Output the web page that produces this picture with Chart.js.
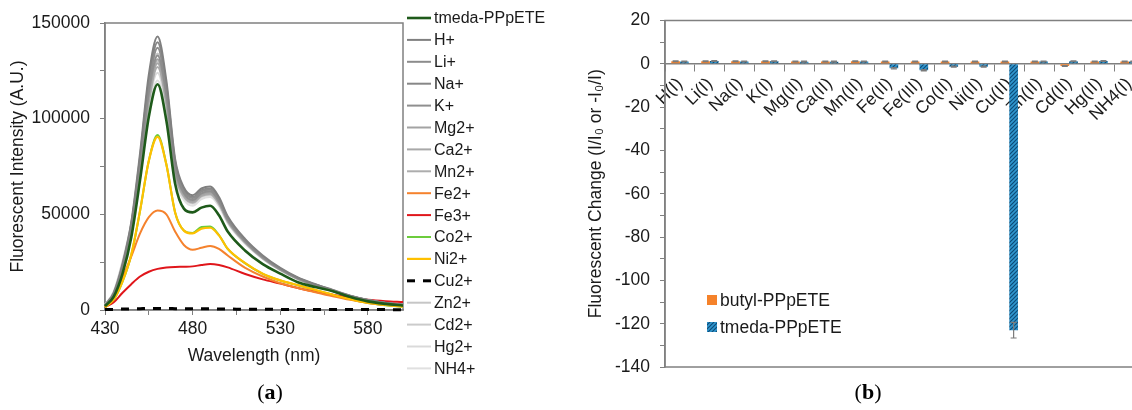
<!DOCTYPE html>
<html>
<head>
<meta charset="utf-8">
<script src="https://cdn.jsdelivr.net/npm/chart.js@4.4.1/dist/chart.umd.min.js"></script>
<style>
html, body { margin: 0; padding: 0; background: #fff; width: 1132px; height: 410px; overflow: hidden; }
#wrapA { position: absolute; left: 0; top: 0; width: 560px; height: 410px; }
#wrapB { position: absolute; left: 560px; top: 0; width: 600px; height: 410px; }
.cap { position: absolute; top: 379px; transform: translateX(-50%); font-family: "Liberation Serif", "DejaVu Serif", serif; font-size: 22px; color: #000; }
</style>
</head>
<body>
<div id="wrapA"><canvas id="spectra"></canvas></div>
<div id="wrapB"><canvas id="change"></canvas></div>
<div class="cap" style="left:270px">(<b>a</b>)</div>
<div class="cap" style="left:868px">(<b>b</b>)</div>
<script>
'use strict';

// ---- panel (a): emission spectra, intensities in thousands (A.U.) ----
const wavelengths = [430, 435, 440, 445, 450, 455, 460, 465, 470, 475, 480, 485, 490, 495, 500, 510, 520, 530, 540, 550, 560, 570, 580, 590, 600];

const tmedaSpec = [2, 7, 19, 38, 68, 101, 118, 99, 66, 53, 51, 53.5, 54.5, 49.5, 41, 31, 24, 19, 14.5, 12, 9.8, 6.8, 4.5, 3.2, 2.3];
const hSpec   = [2.5, 9, 24, 46, 82, 123, 143, 120, 79, 64, 60, 63.5, 64.5, 59, 49, 37, 28.5, 22, 17, 13.5, 10.5, 7.5, 5.3, 3.8, 2.8];
const liSpec  = [2.4, 8.6, 23, 44, 78, 117, 137, 115, 76, 62, 58.5, 62, 63, 57.5, 47.8, 36.2, 27.8, 21.5, 16.6, 13.2, 10.2, 7.3, 5.2, 3.7, 2.7];
const naSpec  = [2.4, 8.8, 23.5, 45, 80, 120, 140, 117.5, 77.5, 63, 59, 62.5, 63.5, 58, 48.2, 36.5, 28, 21.7, 16.8, 13.3, 10.3, 7.4, 5.2, 3.7, 2.7];
const kSpec   = [2.3, 8.3, 22.3, 42.5, 75.5, 113.5, 133, 112, 74, 61, 57.5, 61, 62, 56.7, 47.2, 35.8, 27.5, 21.3, 16.5, 13, 10.1, 7.2, 5.1, 3.6, 2.6];
const mgSpec  = [2.3, 8.2, 22, 42, 74.5, 112, 131, 110.5, 73, 60.5, 57, 60.5, 61.5, 56.3, 46.9, 35.6, 27.4, 21.2, 16.4, 13, 10, 7.2, 5.1, 3.6, 2.6];
const caSpec  = [2.3, 8.1, 21.7, 41.3, 73.3, 110, 129, 109, 72, 60, 56.5, 60, 61, 55.9, 46.6, 35.4, 27.2, 21.1, 16.3, 12.9, 10, 7.1, 5, 3.6, 2.6];
const mnSpec  = [2.2, 8, 21.4, 40.7, 72.2, 108.5, 127, 107.5, 71, 59.3, 56, 59.5, 60.5, 55.4, 46.2, 35.1, 27, 20.9, 16.2, 12.8, 9.9, 7.1, 5, 3.5, 2.5];
const fe2Spec = [1.5, 8, 17, 28, 40, 48.5, 52, 50, 41, 34, 31.5, 32.5, 33.5, 32, 28.5, 22, 17.5, 14, 11.5, 9.3, 7.2, 5.3, 3.7, 2.7, 2];
const fe3Spec = [1.5, 4, 9, 13.5, 17.5, 20, 21.5, 22.2, 22.5, 22.6, 22.8, 23.5, 24, 23.5, 22.3, 18.8, 16, 13.8, 11.5, 9.5, 8, 6.5, 5.3, 4.6, 4.2];
const coSpec  = [1.4, 5.4, 14.8, 28.8, 51.8, 78, 91.4, 76.2, 51, 41.6, 40.3, 43.4, 43.6, 39.2, 31.9, 24.4, 18.9, 15.4, 12.9, 10.4, 7.9, 5.6, 3.7, 2.5, 1.7];
const niSpec  = [1.5, 5.5, 15, 29, 52, 78, 90.5, 76, 51, 41.5, 40, 42.5, 43, 39, 32, 24.5, 19, 15.5, 13, 10.5, 8, 5.7, 3.8, 2.6, 1.8];
const cuSpec  = [0.2, 0.3, 0.5, 0.6, 0.7, 0.8, 0.8, 0.8, 0.7, 0.6, 0.6, 0.6, 0.6, 0.5, 0.5, 0.4, 0.4, 0.3, 0.3, 0.3, 0.2, 0.2, 0.2, 0.2, 0.1];
const znSpec  = [2.6, 9.2, 24, 44, 77, 115, 134, 113, 75, 61.5, 58, 61.5, 62.5, 57, 47.5, 36, 27.7, 21.4, 16.6, 13.1, 10.2, 7.3, 5.1, 3.6, 2.6];
const cdSpec  = [2.6, 9.3, 24.5, 44.5, 76, 112, 130, 110, 73, 60.5, 57, 60.5, 61.5, 56.3, 47, 35.7, 27.5, 21.3, 16.5, 13, 10.1, 7.2, 5.1, 3.6, 2.6];
const hgSpec  = [2.7, 9.5, 25, 45, 75, 108, 124, 105, 70, 58.5, 55.5, 59, 60, 55, 46, 35, 27, 20.9, 16.2, 12.8, 9.9, 7.1, 5, 3.5, 2.5];
const nh4Spec = [2.7, 9.6, 25.5, 45.5, 74, 105, 120, 102, 68.5, 57.5, 54.5, 58, 59, 54.2, 45.4, 34.6, 26.7, 20.7, 16.1, 12.7, 9.8, 7, 4.9, 3.5, 2.5];

const xTicksA = [430, 455, 480, 505, 530, 555, 580];
const xLabelsA = [430, 480, 530, 580];
const yTicksA = [0, 25000, 50000, 75000, 100000, 125000, 150000];
const yLabelsA = [0, 50000, 100000, 150000];

// ---- panel (b): fluorescent change per metal ion ----
const ions = ['H(I)', 'Li(I)', 'Na(I)', 'K(I)', 'Mg(II)', 'Ca(II)', 'Mn(II)', 'Fe(II)', 'Fe(III)', 'Co(II)', 'Ni(II)', 'Cu(II)', 'Zn(II)', 'Cd(II)', 'Hg(II)', 'NH4(I)'];
const butylChange = [1.2, 1.2, 1.2, 1.2, 1.1, 1.1, 1.2, 1.1, 1.1, 1.1, 1.1, 1.1, 1.1, -1, 1.1, 1.1];
const tmedaChange = [1.1, 1.3, 1.1, 1.2, 1, 1, 1.1, -2, -3, -1.3, -1.3, -123, 1.1, 1.2, 1.3, 1.1];
const butylError = [0.2, 0.2, 0.2, 0.2, 0.2, 0.2, 0.2, 0.2, 0.2, 0.2, 0.2, 0.2, 0.2, 0.2, 0.2, 0.2];
const tmedaError = [0.2, 0.2, 0.2, 0.2, 0.2, 0.2, 0.2, 0.3, 0.3, 0.2, 0.2, 3.6, 0.2, 0.2, 0.2, 0.2];
const yTicksB = [-140, -130, -120, -110, -100, -90, -80, -70, -60, -50, -40, -30, -20, -10, 0, 10, 20];

const FONT = '"Liberation Sans", Arial, sans-serif';
const INK = '#1a1a1a';
const AXIS = '#808080';

function pts(values) {
    return values.map((v, i) => ({ x: wavelengths[i], y: v * 1000 }));
}

// order: lower numbers are painted later (on top)
const spectra = [
    { label: 'tmeda-PPpETE', values: tmedaSpec, color: '#1e5a1a', width: 2.6, order: -2 },
    { label: 'H+', values: hSpec, color: '#808080', width: 2 },
    { label: 'Li+', values: liSpec, color: '#8c8c8c', width: 2 },
    { label: 'Na+', values: naSpec, color: '#878787', width: 2 },
    { label: 'K+', values: kSpec, color: '#8f8f8f', width: 2 },
    { label: 'Mg2+', values: mgSpec, color: '#a3a3a3', width: 2 },
    { label: 'Ca2+', values: caSpec, color: '#a8a8a8', width: 2 },
    { label: 'Mn2+', values: mnSpec, color: '#adadad', width: 2 },
    { label: 'Fe2+', values: fe2Spec, color: '#f5822d', width: 2 },
    { label: 'Fe3+', values: fe3Spec, color: '#e0161b', width: 2 },
    { label: 'Co2+', values: coSpec, color: '#6ccc3c', width: 2 },
    { label: 'Ni2+', values: niSpec, color: '#ffc000', width: 2.2, order: -1 },
    { label: 'Cu2+', values: cuSpec, color: '#000000', width: 3, dash: [8, 8], order: -3 },
    { label: 'Zn2+', values: znSpec, color: '#c6c6c6', width: 2 },
    { label: 'Cd2+', values: cdSpec, color: '#cbcbcb', width: 2 },
    { label: 'Hg2+', values: hgSpec, color: '#dadada', width: 2 },
    { label: 'NH4+', values: nh4Spec, color: '#e0e0e0', width: 2 }
];

const framePlugin = {
    id: 'frame',
    beforeDatasetsDraw(chart) {
        const { left, top, right, bottom } = chart.chartArea;
        const ctx = chart.ctx;
        ctx.save();
        ctx.strokeStyle = AXIS;
        ctx.lineWidth = 1.5;
        ctx.strokeRect(left, top, right - left, bottom - top);
        ctx.restore();
    }
};

const legendA = {
    id: 'legendA',
    afterDraw(chart) {
        const ctx = chart.ctx;
        const x0 = chart.chartArea.right + 4;
        ctx.save();
        ctx.font = '16px ' + FONT;
        ctx.textBaseline = 'middle';
        chart.data.datasets.forEach((ds, i) => {
            const y = 18 + i * 21.9;
            ctx.beginPath();
            ctx.strokeStyle = ds.borderColor;
            ctx.lineWidth = ds.borderWidth;
            ctx.setLineDash(ds.borderDash || []);
            ctx.moveTo(x0, y);
            ctx.lineTo(x0 + 24, y);
            ctx.stroke();
            ctx.setLineDash([]);
            ctx.fillStyle = INK;
            ctx.fillText(ds.label, x0 + 27, y + 1);
        });
        ctx.restore();
    }
};

new Chart(document.getElementById('spectra'), {
    type: 'line',
    data: {
        datasets: spectra.map(s => ({
            label: s.label,
            data: pts(s.values),
            order: s.order || 0,
            borderColor: s.color,
            backgroundColor: s.color,
            borderWidth: s.width,
            borderDash: s.dash || [],
            pointRadius: 0,
            cubicInterpolationMode: 'monotone',
            clip: s.dash ? 6 : 1
        }))
    },
    options: {
        responsive: true, maintainAspectRatio: false, animation: false,
        layout: { padding: { left: 4, top: 23, right: 157, bottom: 39 } },
        plugins: { legend: { display: false }, tooltip: { enabled: false } },
        scales: {
            x: {
                type: 'linear', min: 430, max: 600,
                afterBuildTicks: s => { s.ticks = xTicksA.map(v => ({ value: v })); },
                afterFit: s => { s.height = 61; },
                ticks: { autoSkip: false, maxRotation: 0, padding: 4, color: INK, font: { family: FONT, size: 17.5 },
                    callback: v => xLabelsA.includes(v) ? String(v) : '' },
                grid: { drawOnChartArea: false, tickLength: 5, color: AXIS, lineWidth: 1 },
                border: { color: AXIS, width: 1.5 },
                title: { display: true, text: 'Wavelength (nm)', color: INK, font: { family: FONT, size: 17.5 } }
            },
            y: {
                min: 0, max: 150000,
                afterBuildTicks: s => { s.ticks = yTicksA.map(v => ({ value: v })); },
                afterFit: s => { s.width = 101; },
                ticks: { autoSkip: false, padding: 10, color: INK, font: { family: FONT, size: 17.5 },
                    callback: v => yLabelsA.includes(v) ? String(v) : '' },
                grid: { drawOnChartArea: false, tickLength: 5, color: AXIS, lineWidth: 1 },
                border: { color: AXIS, width: 1.5 },
                title: { display: true, text: 'Fluorescent Intensity (A.U.)', color: INK, font: { family: FONT, size: 17.5 } }
            }
        }
    },
    plugins: [framePlugin, legendA]
});

// ---- panel (b) ----
function hatchPattern() {
    const c = document.createElement('canvas');
    c.width = 4; c.height = 4;
    const g = c.getContext('2d');
    g.fillStyle = '#3197cf';
    g.fillRect(0, 0, 4, 4);
    g.strokeStyle = '#0d4c78';
    g.lineWidth = 1.2;
    g.beginPath();
    g.moveTo(0, 4); g.lineTo(4, 0);
    g.moveTo(-1, 1); g.lineTo(1, -1);
    g.moveTo(3, 5); g.lineTo(5, 3);
    g.stroke();
    return g.createPattern(c, 'repeat');
}
const tmedaFill = hatchPattern();
const BUTYL = '#f5822a';

const errorBars = {
    id: 'errorBars',
    afterDatasetsDraw(chart) {
        const ctx = chart.ctx;
        const ys = chart.scales.y;
        ctx.save();
        ctx.strokeStyle = '#7a7a7a';
        ctx.lineWidth = 1.2;
        chart.data.datasets.forEach((ds, di) => {
            chart.getDatasetMeta(di).data.forEach((bar, i) => {
                const v = ds.data[i], e = ds.errors[i];
                const y1 = ys.getPixelForValue(v - e), y2 = ys.getPixelForValue(v + e);
                ctx.beginPath();
                ctx.moveTo(bar.x, y1); ctx.lineTo(bar.x, y2);
                ctx.moveTo(bar.x - 3, y1); ctx.lineTo(bar.x + 3, y1);
                ctx.moveTo(bar.x - 3, y2); ctx.lineTo(bar.x + 3, y2);
                ctx.stroke();
            });
        });
        ctx.restore();
    }
};

const legendB = {
    id: 'legendB',
    afterDraw(chart) {
        const ctx = chart.ctx;
        const x0 = chart.chartArea.left + 42;
        ctx.save();
        ctx.font = '17.5px ' + FONT;
        ctx.textBaseline = 'middle';
        chart.data.datasets.forEach((ds, i) => {
            const y = 300 + i * 27;
            ctx.fillStyle = ds.backgroundColor;
            ctx.fillRect(x0, y - 5, 10, 10);
            ctx.fillStyle = INK;
            ctx.fillText(ds.label, x0 + 13, y + 1);
        });
        ctx.restore();
    }
};

new Chart(document.getElementById('change'), {
    type: 'bar',
    data: {
        labels: ions,
        datasets: [
            { label: 'butyl-PPpETE', data: butylChange, errors: butylError, backgroundColor: BUTYL, borderWidth: 0 },
            { label: 'tmeda-PPpETE', data: tmedaChange, errors: tmedaError, backgroundColor: tmedaFill, borderWidth: 0 }
        ]
    },
    options: {
        responsive: true, maintainAspectRatio: false, animation: false,
        layout: { padding: { left: 22, top: 20, right: 16, bottom: 43 } },
        categoryPercentage: 0.58, barPercentage: 1,
        plugins: { legend: { display: false }, tooltip: { enabled: false } },
        scales: {
            x: {
                position: { y: 0 },
                ticks: { autoSkip: false, minRotation: 45, maxRotation: 45, padding: 3, color: INK, font: { family: FONT, size: 17.5 } },
                grid: { drawOnChartArea: false, tickLength: 7, color: AXIS, lineWidth: 1, offset: true },
                border: { color: AXIS, width: 1.5 }
            },
            y: {
                min: -140, max: 20,
                afterBuildTicks: s => { s.ticks = yTicksB.map(v => ({ value: v })); },
                afterFit: s => { s.width = 83; },
                ticks: { autoSkip: false, padding: 10, color: INK, font: { family: FONT, size: 17.5 },
                    callback: v => v % 20 === 0 ? String(v) : '' },
                grid: { drawOnChartArea: false, tickLength: 5, color: AXIS, lineWidth: 1 },
                border: { color: AXIS, width: 1.5 },
                title: { display: true, text: 'Fluorescent Change (I/I\u2080 or -I\u2080/I)', color: INK, font: { family: FONT, size: 17.5 } }
            }
        }
    },
    plugins: [framePlugin, errorBars, legendB]
});
</script>
</body>
</html>
